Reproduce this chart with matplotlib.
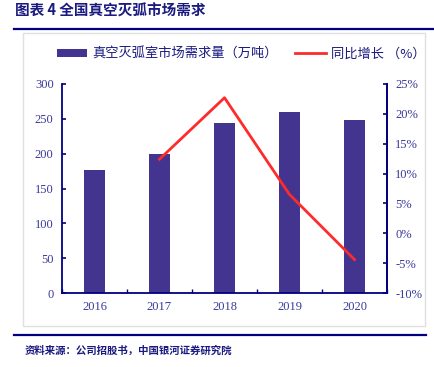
import matplotlib.pyplot as plt
from matplotlib.lines import Line2D
from matplotlib.patches import Rectangle

plt.rcParams['font.family'] = ['Liberation Serif', 'Noto Sans CJK SC', 'DejaVu Sans']

years = ['2016', '2017', '2018', '2019', '2020']
demand = [177, 199, 244, 260, 249]
growth_years = ['2017', '2018', '2019', '2020']
growth = [12.4, 22.7, 6.5, -4.4]

navy = '#000080'
bar_c = '#43358F'
txt_c = '#3A3A9A'

fig = plt.figure(figsize=(4.35, 3.67), dpi=100)

# frame lines and box
fig.add_artist(Line2D([14/435, 1], [1-29/367, 1-29/367], color=navy, lw=1.6))
fig.add_artist(Line2D([14/435, 426/435], [1-335/367, 1-335/367], color=navy, lw=1.6))
fig.add_artist(Rectangle((23/435, 1-326/367), (425-23)/435, (326-33)/367, fill=False,
                         edgecolor='#E0E0E0', lw=1.0))

fig.text(15/435, 1-11/367, '图表 4 全国真空灭弧市场需求', fontsize=10.5, fontweight='bold',
         color='#1A1A80', va='center', family=['Noto Sans CJK SC'])
fig.text(25/435, 1-351/367, '资料来源：公司招股书，中国银河证券研究院', fontsize=7.5,
         style='italic', fontweight='bold', color='#1A1A80', va='center',
         family=['Noto Sans CJK SC'])

ax = fig.add_axes([62/435, 1-293/367, (387-62)/435, (293-84)/367])
x = list(range(len(years)))
bars = ax.bar(x, demand, width=0.31, color=bar_c)
ax.set_xlim(-0.5, 4.5)
ax.set_ylim(0, 300)
ax.set_yticks(range(0, 301, 50))
ax.set_xticks(x)
ax.set_xticklabels(years)
ax.set_xticks([i + 0.5 for i in range(-1, 5)], minor=True)
ax.tick_params(axis='x', which='major', length=0, colors=txt_c, labelsize=9, pad=6)
ax.tick_params(axis='x', which='minor', direction='in', length=3, color=navy, width=1)
ax.tick_params(axis='y', direction='in', length=3, color=navy, width=1.2,
               labelcolor=txt_c, labelsize=9, pad=6)
for s in ['left', 'bottom', 'right']:
    ax.spines[s].set_color(navy)
    ax.spines[s].set_linewidth(1.3)
ax.spines['top'].set_visible(False)

ax2 = ax.twinx()
gx = [years.index(y) for y in growth_years]
line, = ax2.plot(gx, growth, color='#FF2A2A', lw=2)
ax2.set_ylim(-10, 25)
ax2.set_yticks(range(-10, 26, 5))
ax2.set_yticklabels([f'{v}%' for v in range(-10, 26, 5)])
ax2.tick_params(axis='y', direction='in', length=3, color=navy, width=1.2,
                labelcolor=txt_c, labelsize=9, pad=6)
for s in ['left', 'top', 'bottom']:
    ax2.spines[s].set_visible(False)
ax2.spines['right'].set_color(navy)
ax2.spines['right'].set_linewidth(1.3)

fig.legend([bars, line], ['真空灭弧室市场需求量（万吨）', '同比增长 （%）'],
           loc='center left', bbox_to_anchor=(53/435, 1-54/367), ncol=2, frameon=False,
           handlelength=2.3, handleheight=0.5, handletextpad=0.4, columnspacing=1.3,
           borderaxespad=0, borderpad=0.3,
           labelcolor='#1A1A80', prop={'family': ['Noto Sans CJK SC'], 'size': 9.5})

fig.savefig('out.png', dpi=100)
